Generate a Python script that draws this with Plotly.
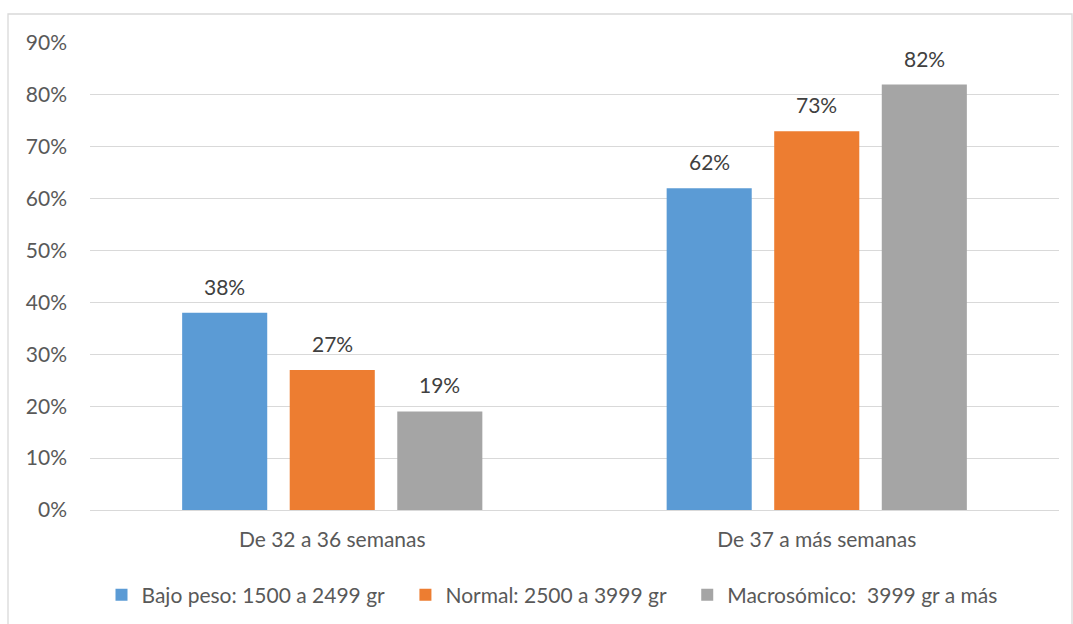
import plotly.graph_objects as go

categories = ["De 32 a 36 semanas", "De 37 a más semanas"]
series_names = [
    "Bajo peso: 1500 a 2499 gr",
    "Normal: 2500 a 3999 gr",
    "Macrosómico:  3999 gr a más",
]
series_values = [
    [0.38, 0.62],
    [0.27, 0.73],
    [0.19, 0.82],
]
series_colors = ["#5B9BD5", "#ED7D31", "#A5A5A5"]
y_ticks = [0, 0.1, 0.2, 0.3, 0.4, 0.5, 0.6, 0.7, 0.8, 0.9]

FONT = "Lato, Open Sans, sans-serif"
FS = 21

W, H = 1073, 624
L, R, T, B = 90, 14, 43, 114
pw, ph = W - L - R, H - T - B
BARGAP, BARGROUPGAP = 0.334, 0.209

def px_x(x):
    return (x - L) / pw

def px_y(y):
    return (H - B - y) / ph

fig = go.Figure()
for i, (name, vals, color) in enumerate(zip(series_names, series_values, series_colors)):
    # non-breaking spaces widen the gap between legend entries
    legend_name = name + ("\u00a0" * 3 if i < len(series_names) - 1 else "")
    fig.add_trace(go.Bar(
        x=categories, y=vals, name=legend_name,
        marker=dict(color=color, line=dict(width=0)),
        hovertemplate="%{x}<br>%{y:.0%}<extra>" + name + "</extra>",
    ))

# value labels above each bar, shifted to the bar's slot within its group
slot_px = (pw / len(categories)) * (1 - BARGAP) / len(series_values)
annotations = []
n = len(series_values)
for k, vals in enumerate(series_values):
    for cat, v in zip(categories, vals):
        annotations.append(dict(
            x=cat, y=v, xref="x", yref="y",
            text=f"{v:.0%}", showarrow=False,
            xanchor="center", yanchor="bottom",
            xshift=(k - (n - 1) / 2) * slot_px, yshift=12,
            font=dict(size=FS, color="#404040", family=FONT),
        ))

fig.update_layout(
    width=W, height=H,
    margin=dict(l=L, r=R, t=T, b=B, pad=0, autoexpand=False),
    paper_bgcolor="white", plot_bgcolor="white",
    barmode="group", bargap=BARGAP, bargroupgap=BARGROUPGAP,
    font=dict(family=FONT, color="#595959", size=FS),
    showlegend=True,
    annotations=annotations,
    legend=dict(
        orientation="h", x=px_x(552), xanchor="center",
        y=px_y(595), yanchor="middle",
        font=dict(size=FS, color="#595959"),
        itemwidth=30, traceorder="normal",
    ),
    xaxis=dict(
        showgrid=False, showline=False, ticks="",
        ticklabelstandoff=15,
        tickfont=dict(size=FS, color="#595959"),
    ),
    yaxis=dict(
        range=[0, 0.9], tickvals=y_ticks, tickformat=".0%",
        showgrid=True, gridcolor="#D9D9D9", gridwidth=1.3,
        zeroline=True, zerolinecolor="#D9D9D9", zerolinewidth=1.3,
        showline=False, ticks="", ticklabelstandoff=22,
        tickfont=dict(size=FS, color="#595959"),
    ),
    shapes=[dict(
        type="rect", xref="paper", yref="paper",
        x0=px_x(8), x1=px_x(1072), y0=px_y(640), y1=px_y(14),
        line=dict(color="#D9D9D9", width=1.3), fillcolor="rgba(0,0,0,0)",
        layer="below",
    )],
)

fig.write_html("out.html")
